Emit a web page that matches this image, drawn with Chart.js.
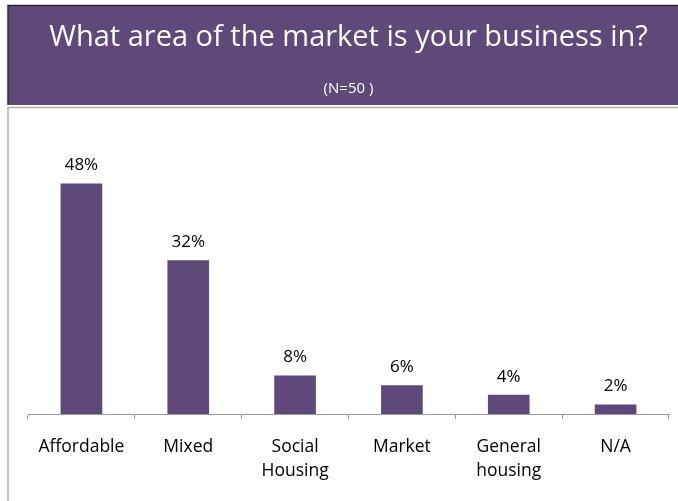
<!DOCTYPE html>
<html>
<head>
<meta charset="utf-8">
<script src="https://cdn.jsdelivr.net/npm/chart.js@4"></script>
<style>
  html, body { margin: 0; padding: 0; background: #fff; }
  #wrap { width: 678px; height: 501px; position: relative; }
</style>
</head>
<body>
<div id="wrap"><canvas id="graph"></canvas></div>
<script>
'use strict';

var categories = ['Affordable', 'Mixed', ['Social', 'Housing'], 'Market', ['General', 'housing'], 'N/A'];
var shares = [48, 32, 8, 6, 4, 2]; // percent of respondents
var titleText = 'What area of the market is your business in?';
var subtitleText = '(N=50 )';

var purple = '#5f497a';
var fontFamily = '"Open Sans", "Noto Sans", sans-serif';

// purple header band and the grey frame below it
var frame = {
  id: 'frame',
  beforeDraw: function(chart) {
    let ctx = chart.ctx;
    ctx.save();
    ctx.fillStyle = purple;
    ctx.fillRect(8, 5, 670, 100);
    ctx.strokeStyle = '#2e2a33';
    ctx.lineWidth = 1.5;
    ctx.beginPath();
    ctx.moveTo(8, 105);
    ctx.lineTo(8, 5.5);
    ctx.lineTo(678, 5.5);
    ctx.stroke();
    ctx.strokeStyle = '#b0b0b0';
    ctx.lineWidth = 1.5;
    ctx.beginPath();
    ctx.moveTo(678, 107.5);
    ctx.lineTo(8, 107.5);
    ctx.lineTo(8, 501);
    ctx.stroke();
    ctx.restore();
  }
};

// percentage above each bar
var valueLabels = {
  id: 'valueLabels',
  afterDatasetsDraw: function(chart) {
    let ctx = chart.ctx;
    let meta = chart.getDatasetMeta(0);
    ctx.save();
    ctx.font = '17px ' + fontFamily;
    ctx.fillStyle = '#000';
    ctx.textAlign = 'center';
    ctx.textBaseline = 'middle';
    meta.data.forEach(function(bar, i) {
      ctx.fillText(shares[i] + '%', bar.x, bar.y - 18);
    });
    ctx.restore();
  }
};

var ctx = document.getElementById('graph').getContext('2d');
var myChart = new Chart(ctx, {
  type: 'bar',
  data: {
    labels: categories,
    datasets: [{
      data: shares,
      backgroundColor: purple,
      borderWidth: 0,
      barPercentage: 0.39,
      categoryPercentage: 1.0
    }]
  },
  options: {
    responsive: true,
    maintainAspectRatio: false,
    animation: false,
    events: [],
    layout: { padding: { left: 28, right: 9, top: 0, bottom: 0 } },
    plugins: {
      legend: { display: false },
      tooltip: { enabled: false },
      title: {
        display: true,
        text: titleText,
        color: '#ffffff',
        font: { family: fontFamily, size: 29, weight: 'normal', lineHeight: 1.2 },
        padding: { top: 20, bottom: 0 }
      },
      subtitle: {
        display: true,
        text: subtitleText,
        color: '#ffffff',
        font: { family: fontFamily, size: 15, weight: 'normal', lineHeight: 1.2 },
        padding: { top: 25, bottom: 76 }
      }
    },
    scales: {
      x: {
        offset: true,
        grid: {
          display: true,
          drawOnChartArea: false,
          drawTicks: true,
          tickLength: 5,
          color: '#9a9a9a',
          offset: true
        },
        border: { display: true, color: '#9a9a9a', width: 1 },
        ticks: {
          color: '#000',
          padding: 16,
          maxRotation: 0,
          font: { family: fontFamily, size: 17.5, lineHeight: 1.37 }
        },
        afterFit: function(scale) { scale.height = 87; }
      },
      y: {
        display: false,
        min: 0,
        max: 50
      }
    }
  },
  plugins: [frame, valueLabels]
});
</script>
</body>
</html>
